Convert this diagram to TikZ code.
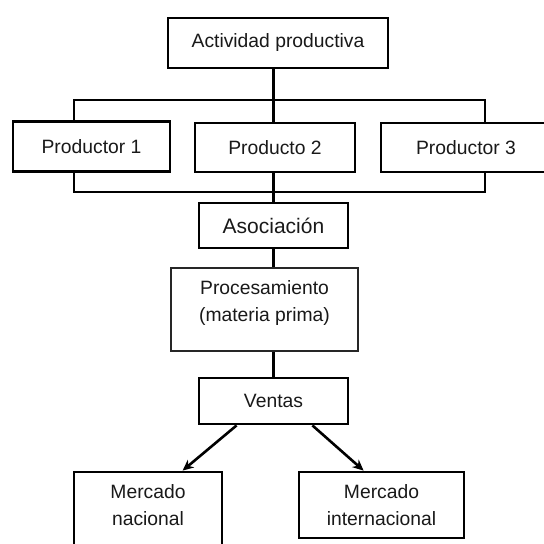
\documentclass[tikz,border=0pt]{standalone}
\usepackage{fontspec}
\setmainfont{Liberation Sans}
\usetikzlibrary{arrows.meta}
\tikzset{
  box/.style={draw=black, line width=2.8pt, fill=white, inner sep=0pt, align=center,
    font=\fontsize{19.3}{27.5}\selectfont, text=black!90},
  thinbox/.style={draw=black!85, line width=1.4pt, fill=white, inner sep=0pt},
  txt/.style={inner sep=0pt, align=center, font=\fontsize{19.3}{27.5}\selectfont, text=black!90},
  conn/.style={draw=black, line width=2.8pt},
  arr/.style={draw=black, line width=2.6pt, -{Stealth[length=11pt,width=10pt]}}
}
\begin{document}
\begin{tikzpicture}[x=1pt,y=-1pt]
\useasboundingbox (0,0) rectangle (544,544);
\fill[white] (0,0) rectangle (544,544);
% coordinates
\coordinate (j1) at (273.5,100);
\coordinate (l1) at (74,100);
\coordinate (r1) at (485,100);
\coordinate (j2) at (273.5,192);
\coordinate (l2) at (74,192);
\coordinate (r2) at (485,192);
% nodes
\node[box, minimum width=220pt, minimum height=50pt] (act) at (278,43) {Actividad productiva};
\node[box, minimum width=157pt, minimum height=50pt] (p1) at (91.5,146.5) {Productor 1};
\node[box, minimum width=160pt, minimum height=49pt] (p2) at (275,147.5) {Producto 2};
\node[box, minimum width=170pt, minimum height=49pt] (p3) at (466,147.5) {Productor 3};
\node[box, minimum width=149pt, minimum height=45pt, font=\fontsize{21}{26}\selectfont] (asoc) at (273.5,225.5) {Asociaci\'on};
\node[thinbox, minimum width=187pt, minimum height=83pt] (proc) at (264.5,309.5) {};
\node[txt] (proct) at ([yshift=6.5pt]proc.center) {Procesamiento\\(materia prima)};
\node[box, minimum width=149pt, minimum height=46pt] (ventas) at (273.5,401) {Ventas};
\node[box, minimum width=148pt, minimum height=110pt] (mn) at (148,527) {};
\node[txt] (mnt) at (148,505) {Mercado\\nacional};
\node[box, minimum width=165pt, minimum height=66pt] (mi) at (381.5,505) {Mercado\\internacional};
% connectors
\draw[conn] (act.south -| j1) -- (j1);
\draw[conn] (p1.north -| l1) -- (l1) -- (r1) -- (p3.north -| r1);
\draw[conn] (j1) -- (p2.north -| j1);
\draw[conn] (p1.south -| l2) -- (l2) -- (r2) -- (p3.south -| r2);
\draw[conn] (p2.south -| j2) -- (asoc.north -| j2);
\draw[conn] (asoc.south -| j2) -- (proc.north -| j2);
\draw[conn] (proc.south -| j2) -- (ventas.north -| j2);
\draw[arr] ([xshift=39pt]ventas.south west) -- ([xshift=110pt]mn.north west);
\draw[arr] ([xshift=-37pt]ventas.south east) -- ([xshift=66pt]mi.north west);
\end{tikzpicture}
\end{document}
